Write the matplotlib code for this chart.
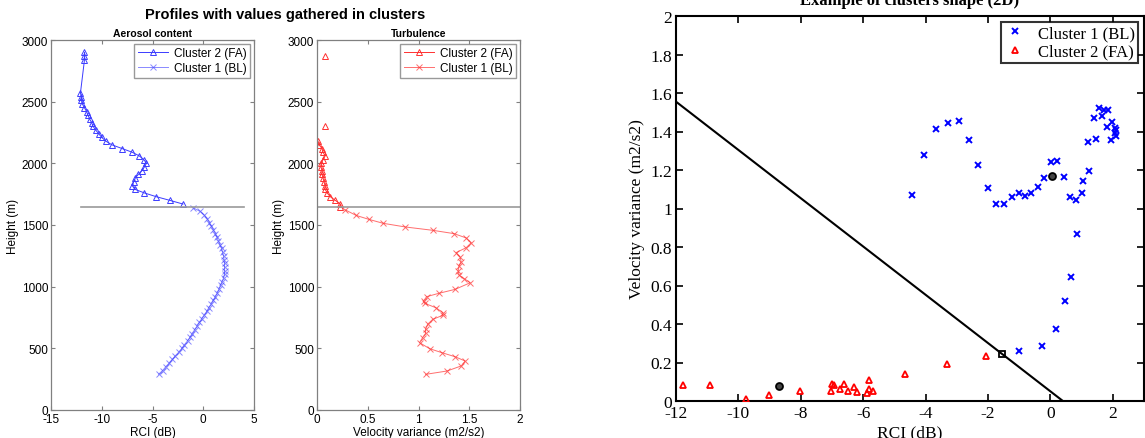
import matplotlib
matplotlib.use('Agg')
import matplotlib.pyplot as plt
import numpy as np
from matplotlib.ticker import FuncFormatter

plt.rcParams['axes.unicode_minus'] = False

# --- aerosol content profile (RCI in dB vs height in m) ---
fa_aer_h = [2900, 2870, 2840, 2570, 2540, 2510, 2480, 2450, 2420, 2390, 2360, 2330, 2300,
            2270, 2240, 2210, 2180, 2150, 2120, 2090, 2060, 2030, 2000, 1970, 1940, 1910,
            1880, 1850, 1820, 1790, 1760, 1730, 1700, 1670]
fa_aer_rci = [-11.7, -11.7, -11.7, -12.1, -12.0, -12.0, -11.9, -11.7, -11.5, -11.35, -11.2,
              -11.0, -10.85, -10.6, -10.3, -10.0, -9.6, -9.0, -8.0, -7.0, -6.3, -5.85, -5.6,
              -5.8, -6.05, -6.4, -6.7, -6.85, -7.0, -6.75, -5.8, -4.65, -3.3, -2.0]

bl_aer_h = [1640, 1610, 1580, 1550, 1520, 1490, 1460, 1430, 1400, 1370, 1340, 1310, 1280,
            1250, 1220, 1190, 1160, 1130, 1100, 1070, 1040, 1010, 980, 950, 920, 890, 860,
            830, 800, 770, 740, 710, 680, 650, 620, 590, 560, 530, 500, 470, 440, 410, 380,
            350, 320, 290]
bl_aer_rci = [-1.0, -0.3, 0.1, 0.4, 0.6, 0.8, 1.0, 1.2, 1.35, 1.5, 1.65, 1.8, 1.9, 2.0,
              2.05, 2.1, 2.1, 2.1, 2.1, 2.0, 1.85, 1.7, 1.55, 1.4, 1.2, 1.0, 0.8, 0.55, 0.35,
              0.1, -0.15, -0.4, -0.6, -0.85, -1.1, -1.3, -1.55, -1.85, -2.1, -2.4, -2.75,
              -3.05, -3.35, -3.7, -4.0, -4.4]

# --- turbulence profile (velocity variance vs height) ---
fa_turb_h = [2870, 2580, 2300, 2240, 2180, 2150, 2120, 2090, 2060, 2030, 2000, 1970, 1940,
             1910, 1880, 1850, 1820, 1790, 1760, 1730, 1700, 1670, 1650]
fa_turb_var = [0.08, np.nan, 0.08, np.nan, 0.01, 0.02, 0.05, 0.06, 0.08, 0.06, 0.04, 0.04,
               0.05, 0.05, 0.06, 0.07, 0.08, 0.08, 0.10, 0.13, 0.18, 0.23, 0.23]

bl_turb_h = [1622, 1578, 1546, 1514, 1484, 1457, 1430, 1395, 1357, 1316, 1276, 1241, 1203,
             1168, 1127, 1095, 1065, 1032, 978, 946, 919, 884, 865, 830, 789, 768, 735, 695,
             654, 622, 586, 546, 497, 465, 432, 397, 357, 316, 289]
bl_turb_var = [0.28, 0.385, 0.51, 0.65, 0.87, 1.14, 1.35, 1.47, 1.52, 1.47, 1.37, 1.41,
               1.42, 1.40, 1.39, 1.40, 1.45, 1.51, 1.36, 1.20, 1.08, 1.05, 1.06, 1.17, 1.24,
               1.24, 1.14, 1.09, 1.07, 1.07, 1.04, 1.01, 1.11, 1.23, 1.36, 1.46, 1.42, 1.28,
               1.07]

pbl_height = 1650

# --- 2D cluster scatter ---
c1_rci = [-4.42, -4.05, -3.66, -3.28, -2.93, -2.62, -2.32, -2.01, -1.74, -1.49, -1.24, -1.02,
          -0.83, -0.62, -0.40, -0.19, 0.02, 0.21, 0.42, 0.63, 0.82, 1.02, 1.05, 1.23, 1.20,
          1.39, 1.46, 1.55, 1.66, 1.71, 1.84, 1.82, 1.95, 1.99, 2.06, 2.08, 2.10, 2.10,
          -1.02, -0.28, 0.17, 0.46, 0.66, 0.86]
c1_var = [1.071, 1.279, 1.412, 1.446, 1.455, 1.355, 1.228, 1.106, 1.022, 1.024, 1.061, 1.078,
          1.066, 1.083, 1.114, 1.161, 1.242, 1.246, 1.163, 1.061, 1.043, 1.080, 1.144, 1.197,
          1.348, 1.469, 1.360, 1.524, 1.481, 1.510, 1.510, 1.424, 1.356, 1.448, 1.420, 1.394,
          1.377, 1.410, 0.258, 0.284, 0.373, 0.517, 0.645, 0.867]

c2_rci = [-11.77, -10.90, -9.77, -9.02, -8.04, -7.03, -6.99, -6.92, -6.75, -6.63, -6.50,
          -6.30, -6.21, -5.87, -5.82, -5.81, -5.69, -4.65, -3.32, -2.05]
c2_var = [0.082, 0.085, 0.012, 0.029, 0.054, 0.050, 0.090, 0.083, 0.061, 0.090, 0.054,
          0.073, 0.049, 0.043, 0.061, 0.111, 0.054, 0.139, 0.194, 0.236]

centroids_rci = [0.05, -8.69]
centroids_var = [1.170, 0.080]
border_pt = (-1.55, 0.246)
sep_rci = [-12, 0.4]
sep_var = [1.555, 0.0]

W, H = 1145, 439
fig = plt.figure(figsize=(W / 100, H / 100), dpi=100)


def box(x0, y0, x1, y1):
    return [x0 / W, 1 - y1 / H, (x1 - x0) / W, (y1 - y0) / H]


sans = 'Liberation Sans'
serif = 'Liberation Serif'
grey = '#808080'


def style_left(ax):
    for s in ax.spines.values():
        s.set_color(grey)
        s.set_linewidth(0.9)
    ax.tick_params(direction='in', top=True, right=True, length=3, width=0.8,
                   color=grey, labelsize=8.5, pad=2)
    for lab in ax.get_xticklabels() + ax.get_yticklabels():
        lab.set_family(sans)


blue = '#3b3bff'
red = '#ff3030'
leg_kw = dict(loc='upper right', prop={'family': sans, 'size': 8.5}, fancybox=False,
              borderaxespad=0.3, handlelength=2.6, borderpad=0.3, labelspacing=0.25,
              handletextpad=0.5)

ax1 = fig.add_axes(box(51, 41, 254, 411))
ax1.plot(fa_aer_rci, fa_aer_h, '-^', color=blue, lw=0.7, ms=5, mfc='none', mew=0.7,
         label='Cluster 2 (FA)')
ax1.plot(bl_aer_rci, bl_aer_h, '-x', color=blue, alpha=0.6, lw=0.7, ms=4, mew=0.7,
         label='Cluster 1 (BL)')
ax1.plot([-12, 4], [pbl_height, pbl_height], color='#999999', lw=1.2)
ax1.set_xlim(-15, 5)
ax1.set_ylim(0, 3000)
ax1.set_xticks([-15, -10, -5, 0, 5])
ax1.set_yticks(np.arange(0, 3001, 500))
style_left(ax1)
ax1.set_xlabel('RCI (dB)', family=sans, fontsize=8.5, labelpad=1)
ax1.set_ylabel('Height (m)', family=sans, fontsize=8.5, labelpad=2)
ax1.set_title('Aerosol content', family=sans, fontsize=7.5, fontweight='bold', pad=3)
leg = ax1.legend(**leg_kw)
leg.get_frame().set_edgecolor(grey)

ax2 = fig.add_axes(box(317, 41, 520, 411))
ax2.plot(fa_turb_var, fa_turb_h, '-^', color=red, lw=0.7, ms=5, mfc='none', mew=0.7,
         label='Cluster 2 (FA)')
ax2.plot(bl_turb_var, bl_turb_h, '-x', color=red, alpha=0.7, lw=0.7, ms=4, mew=0.7,
         label='Cluster 1 (BL)')
ax2.axhline(pbl_height, color='#999999', lw=1.2)
ax2.set_xlim(0, 2)
ax2.set_ylim(0, 3000)
ax2.set_xticks([0, 0.5, 1, 1.5, 2])
ax2.xaxis.set_major_formatter(FuncFormatter(lambda v, p: '%g' % v))
ax2.set_yticks(np.arange(0, 3001, 500))
style_left(ax2)
ax2.set_xlabel('Velocity variance (m2/s2)', family=sans, fontsize=8.5, labelpad=1)
ax2.set_ylabel('Height (m)', family=sans, fontsize=8.5, labelpad=2)
ax2.set_title('Turbulence', family=sans, fontsize=7.5, fontweight='bold', pad=3)
leg = ax2.legend(**leg_kw)
leg.get_frame().set_edgecolor(grey)

fig.text(285.5 / W, 1 - 15 / H, 'Profiles with values gathered in clusters', family=sans,
         fontsize=10.5, fontweight='bold', ha='center', va='center')

# right panel
ax3 = fig.add_axes(box(676, 17, 1144, 402))
ax3.plot(sep_rci, sep_var, color='black', lw=1.5, zorder=2)
ax3.plot(c1_rci, c1_var, 'x', color='blue', ms=4, mew=1.4, ls='none', label='Cluster 1 (BL)',
         zorder=3)
ax3.plot(c2_rci, c2_var, '^', color='red', ms=5, mfc='none', mew=1.3, ls='none',
         label='Cluster 2 (FA)', zorder=3)
ax3.plot(centroids_rci, centroids_var, 'o', color='black', mfc='#444444', ms=5, mew=1.3,
         ls='none', zorder=4)
ax3.plot([border_pt[0]], [border_pt[1]], 's', color='black', mfc='none', ms=5, mew=1.3,
         zorder=4)
ax3.set_xlim(-12, 3)
ax3.set_ylim(0, 2)
ax3.set_xticks(np.arange(-12, 3, 2))
ax3.set_yticks(np.arange(0, 2.01, 0.2))
ax3.yaxis.set_major_formatter(FuncFormatter(lambda v, p: '%g' % round(v, 1)))
for s in ax3.spines.values():
    s.set_linewidth(1.5)
ax3.tick_params(direction='in', top=True, right=True, length=5, width=1.2, labelsize=12.5,
                pad=3)
for lab in ax3.get_xticklabels() + ax3.get_yticklabels():
    lab.set_family(serif)
ax3.set_xlabel('RCI (dB)', family=serif, fontsize=12.5, labelpad=2)
ax3.set_ylabel('Velocity variance (m2/s2)', family=serif, fontsize=12.5, labelpad=4)
# title sits partly above the top edge of the image, as in the original
fig.text(910 / W, 1 - 5 / H, 'Example of clusters shape (2D)', family=serif, fontsize=12,
         fontweight='bold', ha='center', va='baseline')
leg = ax3.legend(loc='upper right', prop={'family': serif, 'size': 12}, fancybox=False,
                 borderaxespad=0.35, handlelength=1.2, borderpad=0.2, labelspacing=0.15,
                 handletextpad=0.8)
leg.get_frame().set_edgecolor('black')
leg.get_frame().set_linewidth(1.5)

fig.savefig('out.png', dpi=100)
